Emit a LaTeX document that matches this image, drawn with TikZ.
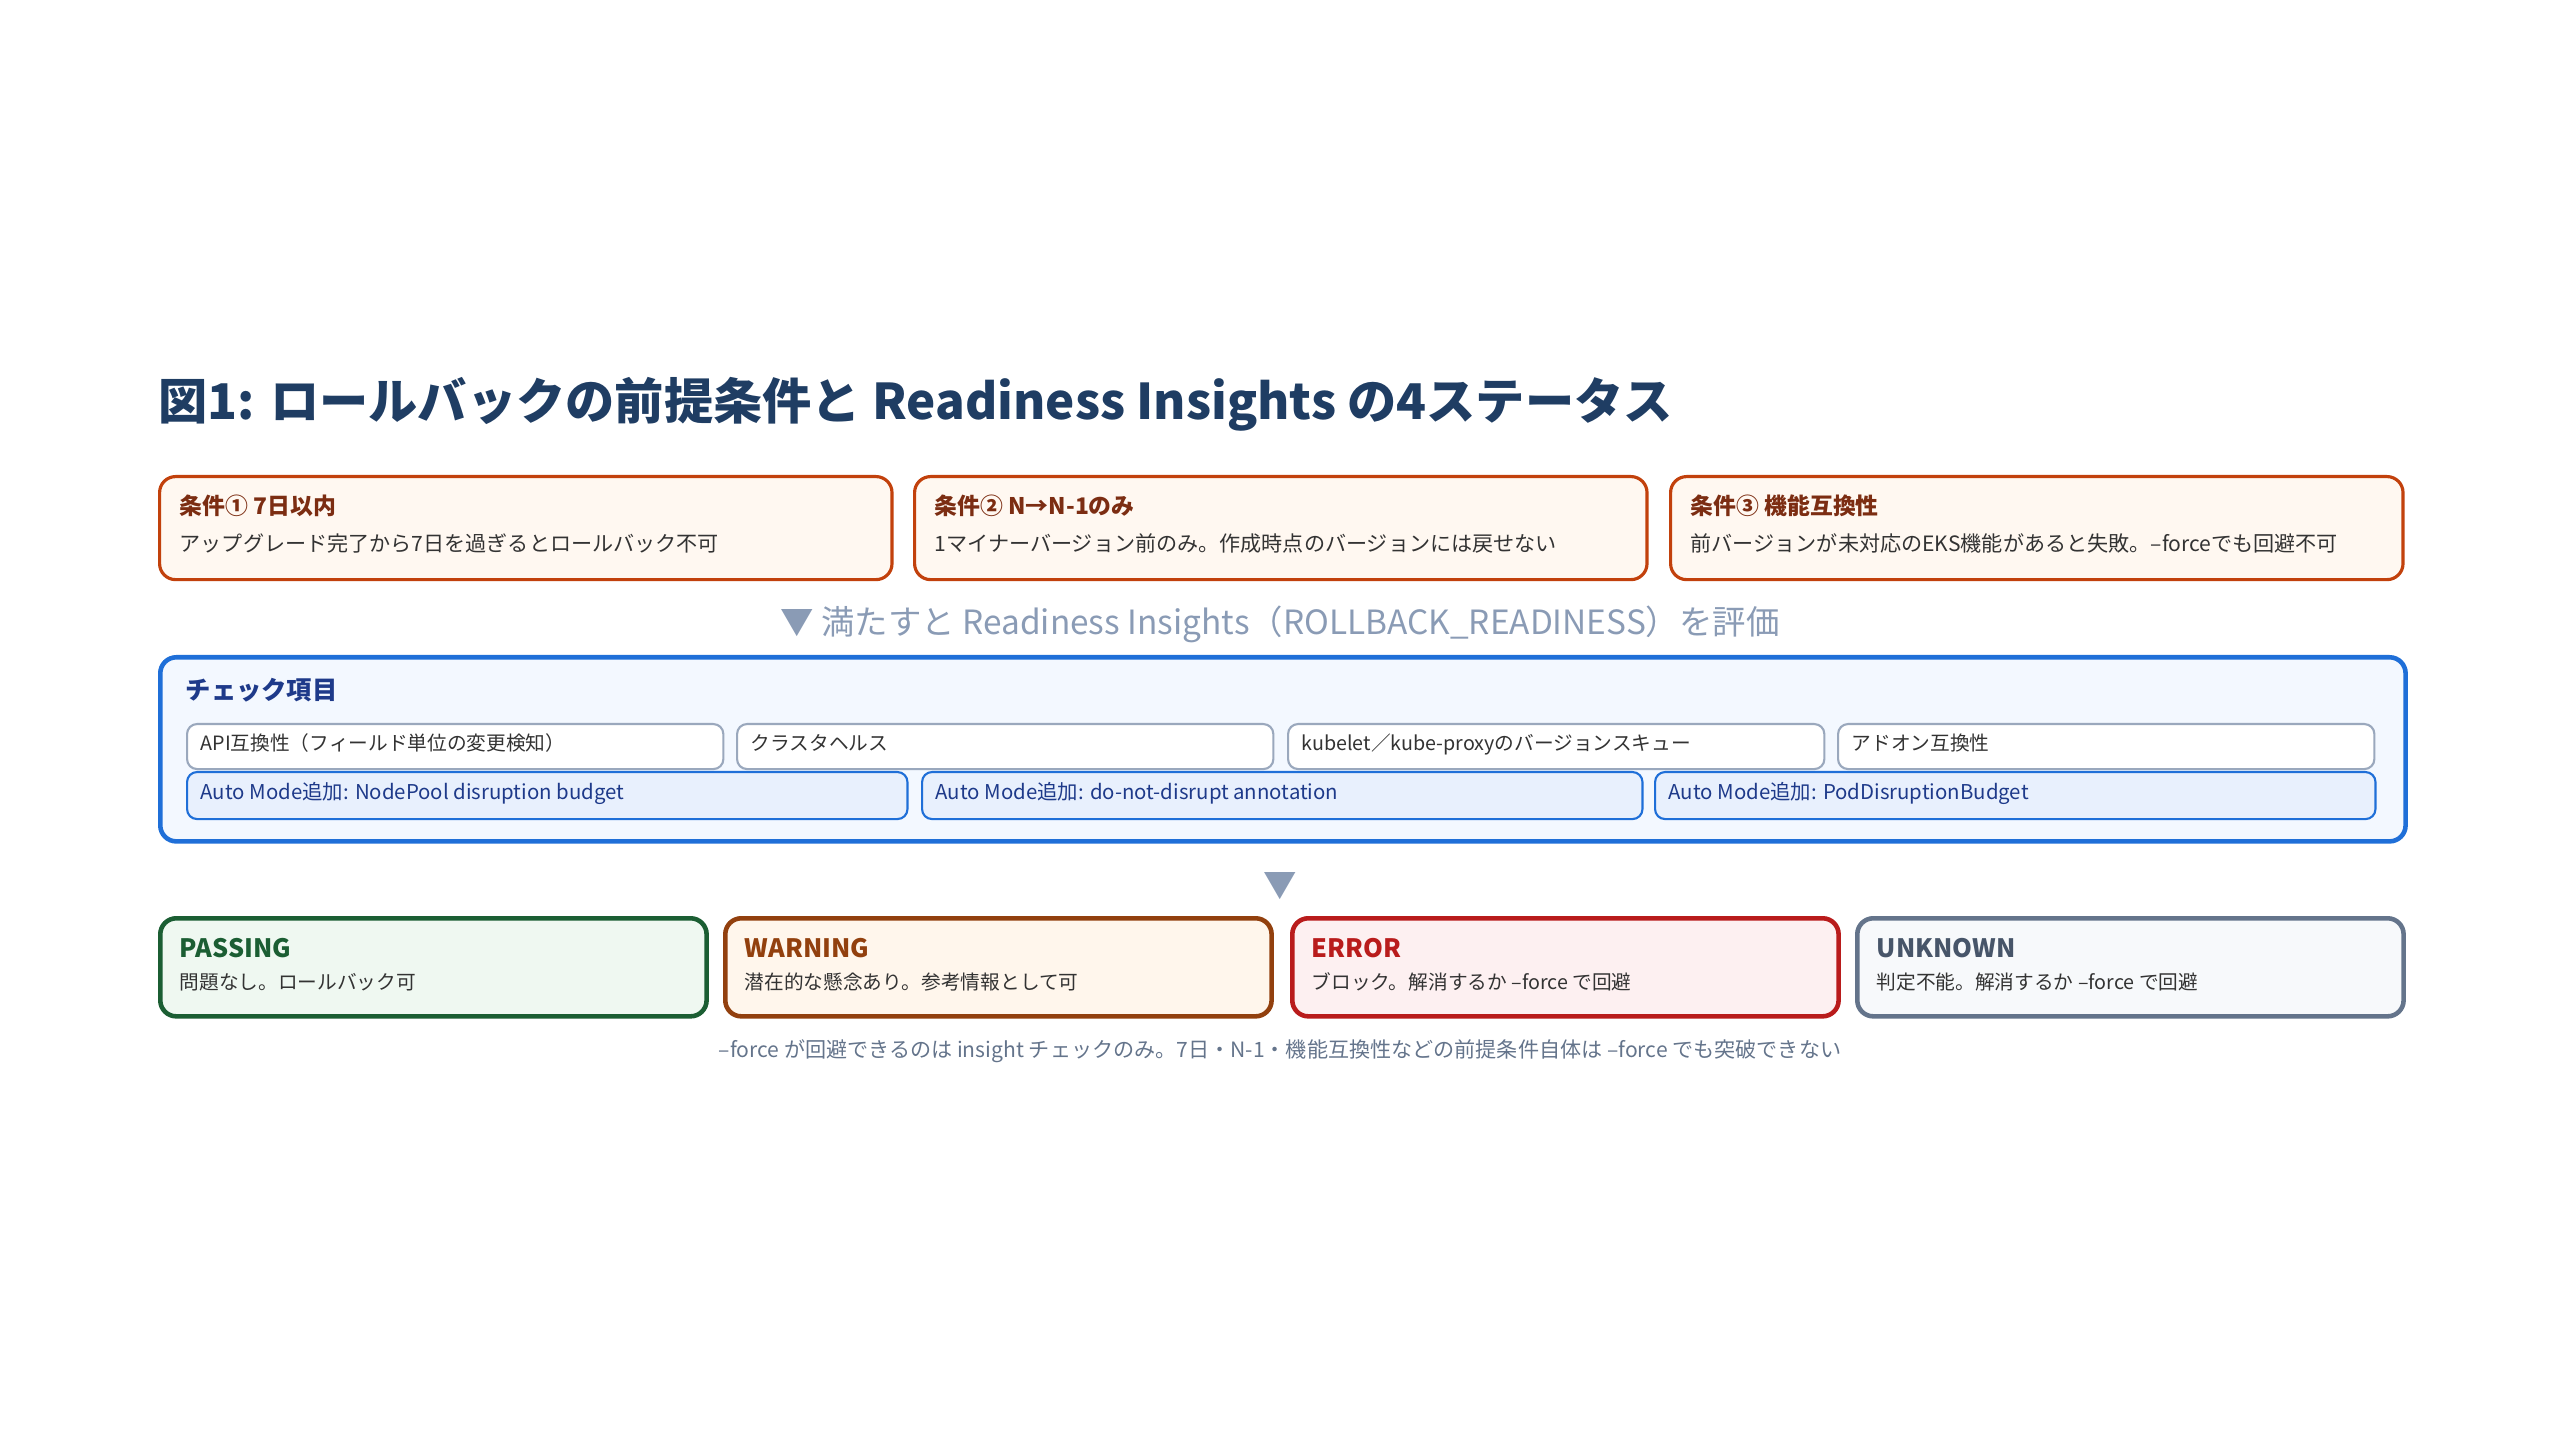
\documentclass[tikz,border=0pt]{standalone}
\usepackage{fontspec}
\setmainfont{Noto Sans CJK JP}
\usepackage{xcolor}
\usepackage{tikz}

\definecolor{titleblue}{HTML}{1F3D63}
\definecolor{condline}{HTML}{C2410C}
\definecolor{condfill}{HTML}{FFF8F1}
\definecolor{condtext}{HTML}{7C2D12}
\definecolor{bodytext}{HTML}{333333}
\definecolor{hintgray}{HTML}{8A9BB5}
\definecolor{chkline}{HTML}{1F6FD8}
\definecolor{chkfill}{HTML}{F3F8FF}
\definecolor{chktext}{HTML}{1E3A8A}
\definecolor{itemline}{HTML}{9AA8BD}
\definecolor{addfill}{HTML}{E8F0FD}
\definecolor{passline}{HTML}{1B5E33}
\definecolor{passfill}{HTML}{EFF8F1}
\definecolor{warnline}{HTML}{92400E}
\definecolor{warnfill}{HTML}{FFF6EC}
\definecolor{errline}{HTML}{B91C1C}
\definecolor{errfill}{HTML}{FDF0F1}
\definecolor{unkline}{HTML}{64748B}
\definecolor{unkfill}{HTML}{F7F9FB}
\definecolor{unktext}{HTML}{475569}
\definecolor{notegray}{HTML}{64748B}

\tikzset{
  box/.style={draw, rectangle, rounded corners=0.16cm, line width=0.9pt, anchor=north west, inner sep=0pt},
  cond/.style={box, draw=condline, fill=condfill, minimum width=7.32cm, minimum height=1.03cm},
  item/.style={box, draw=itemline, fill=white, line width=0.6pt, rounded corners=0.1cm, minimum width=5.36cm, minimum height=0.45cm},
  addon/.style={box, draw=chkline, fill=addfill, line width=0.6pt, rounded corners=0.1cm, minimum width=7.2cm, minimum height=0.47cm},
  stat/.style={box, line width=1.3pt, minimum width=5.46cm, minimum height=0.98cm},
  txt/.style={anchor=base west, inner sep=0pt, font=\fontsize{6}{7}\selectfont, text=bodytext},
  head/.style={anchor=base west, inner sep=0pt, font=\fontsize{6.5}{8}\selectfont\bfseries},
  shead/.style={anchor=base west, inner sep=0pt, font=\fontsize{7.2}{9}\selectfont\bfseries},
}

\begin{document}
\begin{tikzpicture}[x=0.01cm, y=-0.01cm]
    \useasboundingbox (0,0) rectangle (2560,1440);

    \node[anchor=base west, inner sep=0pt, font=\fontsize{14}{16}\selectfont\bfseries, text=titleblue] at (158,420) (title) {図1: ロールバックの前提条件と Readiness Insights の4ステータス};

    % conditions
    \node[cond] at (158,475) (c1) {};
    \node[cond] at (913,475) (c2) {};
    \node[cond] at (1669,475) (c3) {};
    \node[head, text=condtext] at (179,515) (c1t) {条件① 7日以内};
    \node[head, text=condtext] at (934,515) (c2t) {条件② N→N-1のみ};
    \node[head, text=condtext] at (1690,515) (c3t) {条件③ 機能互換性};
    \node[txt] at (179,552) (c1b) {アップグレード完了から7日を過ぎるとロールバック不可};
    \node[txt] at (934,552) (c2b) {1マイナーバージョン前のみ。作成時点のバージョンには戻せない};
    \node[txt] at (1690,552) (c3b) {前バージョンが未対応のEKS機能があると失敗。--forceでも回避不可};

    \node[inner sep=0pt, font=\fontsize{9.5}{11}\selectfont, text=hintgray] at (1280,624) (hint) {▼ 満たすと Readiness Insights（ROLLBACK\_READINESS）を評価};

    % checks
    \node[box, draw=chkline, fill=chkfill, line width=1.3pt, minimum width=22.44cm, minimum height=1.84cm] at (158,655) (chk) {};
    \node[head, text=chktext, font=\fontsize{7.2}{9}\selectfont\bfseries] at (185,700) (chkt) {チェック項目};
    \node[item] at (186,723) (i1) {};
    \node[item] at (736,723) (i2) {};
    \node[item] at (1287,723) (i3) {};
    \node[item] at (1837,723) (i4) {};
    \node[txt, font=\fontsize{5.6}{7}\selectfont] at (200,751) (i1t) {API互換性（フィールド単位の変更検知）};
    \node[txt, font=\fontsize{5.6}{7}\selectfont] at (750,751) (i2t) {クラスタヘルス};
    \node[txt, font=\fontsize{5.6}{7}\selectfont] at (1301,751) (i3t) {kubelet／kube-proxyのバージョンスキュー};
    \node[txt, font=\fontsize{5.6}{7}\selectfont] at (1851,751) (i4t) {アドオン互換性};
    \node[addon] at (186,771) (a1) {};
    \node[addon] at (921,771) (a2) {};
    \node[addon] at (1654,771) (a3) {};
    \node[txt, font=\fontsize{5.8}{7}\selectfont, text=chktext] at (200,800) (a1t) {Auto Mode追加: NodePool disruption budget};
    \node[txt, font=\fontsize{5.8}{7}\selectfont, text=chktext] at (935,800) (a2t) {Auto Mode追加: do-not-disrupt annotation};
    \node[txt, font=\fontsize{5.8}{7}\selectfont, text=chktext] at (1668,800) (a3t) {Auto Mode追加: PodDisruptionBudget};

    \node[inner sep=0pt, font=\fontsize{9.5}{11}\selectfont, text=hintgray] at (1280,886) (down) {▼};

    % statuses
    \node[stat, draw=passline, fill=passfill] at (158,916) (s1) {};
    \node[stat, draw=warnline, fill=warnfill] at (723,916) (s2) {};
    \node[stat, draw=errline, fill=errfill] at (1290,916) (s3) {};
    \node[stat, draw=unkline, fill=unkfill] at (1855,916) (s4) {};
    \node[shead, text=passline] at (179,957) (s1t) {PASSING};
    \node[shead, text=warnline] at (744,957) (s2t) {WARNING};
    \node[shead, text=errline] at (1311,957) (s3t) {ERROR};
    \node[shead, text=unktext] at (1876,957) (s4t) {UNKNOWN};
    \node[txt, font=\fontsize{5.6}{7}\selectfont] at (179,989) (s1b) {問題なし。ロールバック可};
    \node[txt, font=\fontsize{5.6}{7}\selectfont] at (744,989) (s2b) {潜在的な懸念あり。参考情報として可};
    \node[txt, font=\fontsize{5.6}{7}\selectfont] at (1311,989) (s3b) {ブロック。解消するか --force で回避};
    \node[txt, font=\fontsize{5.6}{7}\selectfont] at (1876,989) (s4b) {判定不能。解消するか --force で回避};

    \node[inner sep=0pt, font=\fontsize{6}{7}\selectfont, text=notegray] at (1280,1051) (note) {--force が回避できるのは insight チェックのみ。7日・N-1・機能互換性などの前提条件自体は --force でも突破できない};
\end{tikzpicture}
\end{document}
